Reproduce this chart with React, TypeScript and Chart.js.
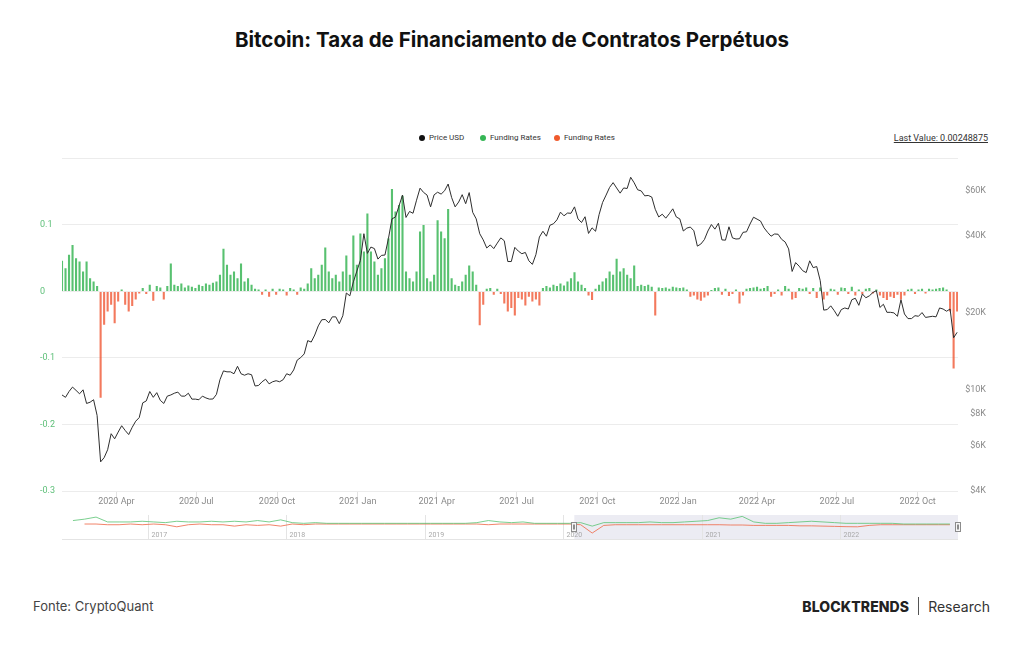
import React, { useEffect, useRef } from "react";
import { Chart, registerables } from "chart.js";
Chart.register(...registerables);

// ---------- DATA ----------
const START_DATE = "2020-01-30"; // first sample
const STEP_DAYS = 4; // one sample every 4 days
const END_DATE = "2022-11-16"; // right edge of the axis

const priceUSD = [
  9500, 9300, 9800, 10200, 9900, 9600, 9950, 8800, 8900, 9100,
  7900, 5200, 5400, 5800, 6700, 6400, 6800, 7200, 6900, 6650,
  7100, 7500, 7750, 8850, 9000, 9800, 9300, 9700, 9050, 8800,
  9400, 9500, 9650, 9750, 9400, 9400, 9650, 9150, 9150, 9100,
  9400, 9250, 9150, 9160, 9550, 10900, 11800, 11700, 11700, 11500,
  12300, 11500, 11350, 11500, 11400, 10300, 10350, 10700, 10950, 10500,
  10700, 10800, 10700, 10900, 11500, 11350, 11900, 13000, 13300, 13750,
  15500, 15300, 16300, 17700, 18700, 18750, 18200, 19200, 19200, 18050,
  19400, 23800, 23200, 26300, 29000, 31900, 40600, 34000, 36000, 35500,
  32300, 33400, 33500, 38900, 46400, 47200, 52100, 57500, 47000, 49600,
  48800, 54900, 61200, 58900, 57500, 51700, 57600, 59000, 58000, 59800,
  63500, 56200, 51700, 54000, 57700, 53200, 58800, 49200, 46400, 40600,
  38400, 35700, 36700, 35500, 37300, 39100, 38100, 31600, 31600, 35900,
  34700, 33900, 34300, 31800, 30800, 33600, 39400, 41500, 39700, 43800,
  44400, 46000, 49300, 47700, 48900, 48800, 51700, 46400, 44900, 47300,
  40700, 42800, 41500, 48200, 53800, 57500, 61600, 64300, 61300, 58500,
  61300, 61000, 67500, 64200, 60300, 59700, 57100, 57300, 56500, 50600,
  47200, 48400, 46700, 48600, 50800, 47200, 46400, 41600, 42700, 43100,
  41700, 36300, 37000, 38500, 41600, 44100, 42300, 44600, 38400, 38300,
  43200, 39100, 38700, 38800, 41100, 41300, 44300, 47100, 46300, 45500,
  42800, 41100, 39700, 40500, 40400, 38600, 37700, 35400, 28900, 31300,
  30300, 29100, 28600, 31800, 29900, 30200, 26600, 20400, 20500, 21200,
  20300, 19300, 20500, 20800, 20600, 22400, 22700, 21300, 23600, 22800,
  23200, 23900, 24300, 20900, 21500, 20000, 20000, 19900, 19300, 22400,
  19700, 18900, 18900, 19400, 19300, 19950, 19100, 19200, 19300, 19200,
  20800, 20600, 20200, 20600, 15900, 16700,
];

const fundingRates = [
  0.046, 0.035, 0.055, 0.07, 0.05, 0.045, 0.03, 0.045, 0.02, 0.015,
  0.008, -0.16, -0.05, -0.03, -0.02, -0.048, -0.015, 0.003, -0.02, -0.03,
  -0.022, -0.012, -0.003, 0.005, -0.004, 0.01, -0.014, 0.008, 0.006, -0.012,
  0.008, 0.042, 0.01, 0.008, 0.012, 0.006, 0.009, 0.007, 0.005, 0.01,
  0.008, 0.012, 0.01, 0.013, 0.015, 0.025, 0.064, 0.04, 0.025, 0.03,
  0.02, 0.042, 0.015, 0.02, 0.01, 0.004, 0.003, -0.005, 0.003, -0.008,
  0.004, -0.005, 0.004, 0.003, -0.006, 0.005, 0.003, -0.005, 0.006, 0.004,
  0.012, 0.035, 0.02, 0.025, 0.04, 0.066, 0.03, 0.02, 0.025, 0.015,
  0.03, 0.054, 0.025, 0.084, 0.04, 0.087, 0.06, 0.117, 0.06, 0.045,
  0.025, 0.035, 0.05, 0.08, 0.154, 0.12, 0.13, 0.144, 0.03, 0.02,
  0.015, 0.03, 0.09, 0.1, 0.02, 0.015, 0.025, 0.107, 0.09, 0.08,
  0.124, 0.02, 0.01, 0.008, 0.015, 0.025, 0.039, 0.03, 0.01, -0.051,
  -0.02, 0.004, 0.005, -0.005, 0.004, -0.004, -0.018, -0.03, -0.025, -0.036,
  -0.01, -0.012, -0.021, -0.008, -0.015, -0.012, -0.021, 0.005, 0.008, 0.006,
  0.01, 0.008, 0.012, 0.009, 0.015, 0.02, 0.029, 0.015, 0.01, 0.005,
  -0.006, -0.013, 0.004, 0.01, 0.015, 0.02, 0.03, 0.025, 0.049, 0.03,
  0.035, 0.025, 0.02, 0.039, 0.008, 0.01, 0.008, 0.01, 0.007, -0.036,
  0.006, 0.005, 0.006, 0.004, 0.007, 0.006, 0.005, 0.006, 0.003, -0.008,
  -0.006, -0.012, -0.014, -0.009, -0.006, 0.002, 0.005, 0.006, -0.005, 0.004,
  -0.007, -0.004, 0.003, -0.018, -0.006, 0.004, 0.005, 0.006, 0.007, 0.004,
  0.005, 0.008, -0.008, -0.004, 0.003, -0.006, 0.008, 0.004, -0.012, -0.01,
  0.005, 0.004, 0.006, -0.004, 0.005, -0.01, 0.006, -0.012, -0.006, 0.004,
  0.003, -0.005, 0.006, 0.005, -0.004, 0.007, -0.006, 0.003, -0.004, 0.004,
  0.005, -0.003, 0.003, -0.006, -0.01, -0.013, -0.008, -0.01, -0.005, -0.012,
  -0.006, 0.003, 0.004, -0.004, 0.003, 0.004, -0.003, 0.004, 0.003, 0.004,
  0.005, 0.006, 0.003, -0.03, -0.116, -0.03,
];

const quarterDates = [
  "2020-04-01", "2020-07-01", "2020-10-01", "2021-01-01", "2021-04-01", "2021-07-01",
  "2021-10-01", "2022-01-01", "2022-04-01", "2022-07-01", "2022-10-01",
];
const quarterLabels = [
  "2020 Apr", "2020 Jul", "2020 Oct", "2021 Jan", "2021 Apr", "2021 Jul",
  "2021 Oct", "2022 Jan", "2022 Apr", "2022 Jul", "2022 Oct",
];
const rateTicks = [-0.3, -0.2, -0.1, 0, 0.1, 0.2];
const priceTicks = [4000, 6000, 8000, 10000, 20000, 40000, 60000];
const priceTickLabels = ["$4K", "$6K", "$8K", "$10K", "$20K", "$40K", "$60K"];

// Navigator (overview) – monthly, first value = Jun 2016
const navGreen = [
  0.06, 0.07, 0.085, 0.05, 0.05, 0.05, 0.055,
  0.05, 0.045, 0.055, 0.05, 0.05, 0.055, 0.05, 0.055, 0.05, 0.06, 0.05, 0.065,
  0.045, 0.04, 0.045, 0.04, 0.04, 0.04, 0.04, 0.04, 0.04, 0.04, 0.04, 0.04,
  0.04, 0.04, 0.04, 0.04, 0.045, 0.06, 0.05, 0.045, 0.05, 0.04, 0.04, 0.04,
  0.04, 0.045, 0.02, 0.045, 0.045, 0.045, 0.045, 0.05, 0.045, 0.045, 0.05, 0.055,
  0.06, 0.08, 0.07, 0.09, 0.05, 0.04, 0.04, 0.045, 0.05, 0.055, 0.05, 0.045,
  0.04, 0.04, 0.04, 0.04, 0.04, 0.035, 0.035, 0.035, 0.035, 0.035,
];
// first value = Jul 2016
const navRed = [
  0.035, 0.035, 0.03, 0.03, 0.035, 0.03,
  0.035, 0.03, 0.015, 0.03, 0.035, 0.03, 0.03, 0.02, 0.03, 0.025, 0.03, 0.02,
  0.035, 0.03, 0.035, 0.035, 0.035, 0.035, 0.035, 0.035, 0.035, 0.035, 0.035, 0.035,
  0.035, 0.035, 0.035, 0.035, 0.035, 0.03, 0.035, 0.035, 0.035, 0.035, 0.035, 0.035,
  0.035, 0.03, -0.03, 0.025, 0.03, 0.03, 0.03, 0.03, 0.03, 0.03, 0.03, 0.03,
  0.03, 0.03, 0.028, 0.028, 0.025, 0.025, 0.025, 0.025, 0.022, 0.022, 0.02, 0.018,
  0.016, 0.015, 0.025, 0.03, 0.03, 0.03, 0.03, 0.03, 0.03, 0.03,
];
const navYearLabels = ["2017", "2018", "2019", "2020", "2021", "2022"];

// ---------- helpers ----------
const DAY = 86400000;
const startMs = Date.parse(START_DATE + "T00:00:00Z");
const dayOf = (s: string) => Math.round((Date.parse(s + "T00:00:00Z") - startMs) / DAY);
const FONT = "Roboto, 'Noto Sans', sans-serif";
const GREEN = "rgba(46,178,76,0.8)";
const RED = "rgba(240,88,52,0.8)";

export default function App() {
  const mainRef = useRef<HTMLCanvasElement>(null);
  const navRef = useRef<HTMLCanvasElement>(null);

  useEffect(() => {
    const xs = priceUSD.map((_, i) => i * STEP_DAYS);
    const priceData = priceUSD.map((v, i) => ({ x: xs[i], y: v }));
    const greenData = fundingRates.map((v, i) => ({ x: xs[i], y: v >= 0 ? v : null }));
    const redData = fundingRates.map((v, i) => ({ x: xs[i], y: v < 0 ? v : null }));
    const qDays = quarterDates.map(dayOf);

    const main = new Chart(mainRef.current!, {
      type: "bar",
      data: {
        datasets: [
          {
            type: "line",
            label: "Price USD",
            data: priceData as any,
            yAxisID: "price",
            borderColor: "#2e2e2e",
            borderWidth: 1,
            pointRadius: 0,
            tension: 0,
            order: 0,
          } as any,
          {
            label: "Funding Rates",
            data: greenData as any,
            yAxisID: "rate",
            backgroundColor: GREEN,
            grouped: false,
            barPercentage: 0.6,
            categoryPercentage: 1,
            order: 1,
          } as any,
          {
            label: "Funding Rates",
            data: redData as any,
            yAxisID: "rate",
            backgroundColor: RED,
            grouped: false,
            barPercentage: 0.6,
            categoryPercentage: 1,
            order: 1,
          } as any,
        ],
      },
      options: {
        animation: false,
        responsive: true,
        maintainAspectRatio: false,
        layout: { padding: { top: 7, left: 0, right: 0, bottom: 0 } },
        plugins: { legend: { display: false }, tooltip: { enabled: false } },
        scales: {
          x: {
            type: "linear",
            offset: false,
            min: 0,
            max: dayOf(END_DATE),
            afterBuildTicks: (s: any) => {
              s.ticks = qDays.map((v) => ({ value: v }));
            },
            afterFit: (s: any) => {
              s.height = 20;
            },
            ticks: {
              autoSkip: false,
              maxRotation: 0,
              padding: -7,
              color: "#8a8a8a",
              font: { family: FONT, size: 9 },
              callback: (v: any) => {
                const k = qDays.indexOf(v);
                return k >= 0 ? quarterLabels[k] : "";
              },
            },
            grid: { offset: false, drawOnChartArea: false, drawTicks: true, tickLength: 12, color: "#e3e3e3" },
            border: { display: false },
          },
          rate: {
            type: "linear",
            position: "left",
            min: -0.3,
            max: 0.2,
            afterBuildTicks: (s: any) => {
              s.ticks = rateTicks.map((v) => ({ value: v }));
            },
            afterFit: (s: any) => {
              s.width = 22;
            },
            ticks: {
              crossAlign: "far",
              color: "#5dbf78",
              font: { family: FONT, size: 9 },
              callback: (v: any) => (Math.abs(v - 0.2) < 1e-9 ? "" : String(Math.round(v * 10) / 10)),
            },
            grid: { color: "#ececec", drawTicks: false },
            border: { display: false },
          },
          price: {
            type: "logarithmic",
            position: "right",
            min: 4000,
            max: 80000,
            afterBuildTicks: (s: any) => {
              s.ticks = priceTicks.map((v) => ({ value: v }));
            },
            afterFit: (s: any) => {
              s.width = 28;
            },
            ticks: {
              crossAlign: "far",
              color: "#8a8a8a",
              font: { family: FONT, size: 9 },
              callback: (v: any) => {
                const k = priceTicks.indexOf(v);
                return k >= 0 ? priceTickLabels[k] : "";
              },
            },
            grid: { display: false },
            border: { display: false },
          },
        },
      } as any,
    });

    // Navigator
    const M0 = -0.45; // month index of left edge (0 = Jun 2016)
    const PX_PER_M = 896 / (77.2 - M0);
    const navW = 904;
    const navMax = M0 + navW / PX_PER_M;
    const selStartM = 43.95; // Jan 30 2020
    const navPlugin = {
      id: "navDecor",
      beforeDatasetsDraw(chart: any) {
        const { ctx } = chart;
        const xs = chart.scales.x;
        const h = chart.height;
        ctx.save();
        const sx = xs.getPixelForValue(selStartM);
        ctx.fillStyle = "#ececf3";
        ctx.fillRect(sx, 0, 896 - sx, h);
        ctx.strokeStyle = "#e4e4e4";
        ctx.lineWidth = 1;
        ctx.beginPath();
        ctx.moveTo(0, h - 0.5);
        ctx.lineTo(896, h - 0.5);
        ctx.stroke();
        ctx.font = "7px " + FONT;
        ctx.fillStyle = "#a8a8a8";
        ctx.textBaseline = "alphabetic";
        navYearLabels.forEach((lab, k) => {
          const px = Math.round(xs.getPixelForValue(7 + 12 * k)) + 0.5;
          ctx.beginPath();
          ctx.moveTo(px, 0);
          ctx.lineTo(px, h);
          ctx.stroke();
          ctx.fillText(lab, px + 3, h - 3);
        });
        ctx.restore();
      },
      afterDatasetsDraw(chart: any) {
        const { ctx } = chart;
        const xs = chart.scales.x;
        ctx.save();
        const hs = [Math.round(xs.getPixelForValue(selStartM)), 896];
        hs.forEach((hx) => {
          ctx.fillStyle = "#f6f6f6";
          ctx.strokeStyle = "#8c8c8c";
          ctx.lineWidth = 1;
          ctx.fillRect(hx - 2.5, 7.5, 5, 9);
          ctx.strokeRect(hx - 2.5, 7.5, 5, 9);
          ctx.beginPath();
          ctx.moveTo(hx - 0.5, 9.5);
          ctx.lineTo(hx - 0.5, 14.5);
          ctx.moveTo(hx + 0.5, 9.5);
          ctx.lineTo(hx + 0.5, 14.5);
          ctx.stroke();
        });
        ctx.restore();
      },
    };
    const nav = new Chart(navRef.current!, {
      type: "line",
      data: {
        datasets: [
          {
            data: navGreen.map((v, i) => ({ x: i + 0.5, y: v })),
            borderColor: "rgba(90,195,115,0.8)",
            borderWidth: 1,
            pointRadius: 0,
          },
          {
            data: navRed.map((v, i) => ({ x: i + 1.5, y: v })),
            borderColor: "rgba(238,110,80,0.85)",
            borderWidth: 1,
            pointRadius: 0,
          },
        ] as any,
      },
      options: {
        animation: false,
        responsive: true,
        maintainAspectRatio: false,
        layout: { padding: 0 },
        plugins: { legend: { display: false }, tooltip: { enabled: false } },
        scales: {
          x: { type: "linear", min: M0, max: navMax, display: false },
          y: { min: -0.08, max: 0.1, display: false },
        },
      } as any,
      plugins: [navPlugin],
    });

    return () => {
      main.destroy();
      nav.destroy();
    };
  }, []);

  const legendItem = (left: number, color: string, text: string) => (
    <div
      style={{
        position: "absolute",
        left,
        top: 133,
        display: "flex",
        alignItems: "center",
        fontFamily: FONT,
        fontSize: 8,
        color: "#333",
        whiteSpace: "nowrap",
      }}
    >
      <span
        style={{
          display: "inline-block",
          width: 6,
          height: 6,
          borderRadius: 3,
          background: color,
          marginRight: 4,
        }}
      />
      {text}
    </div>
  );

  return (
    <div
      style={{
        position: "fixed",
        left: 0,
        top: 0,
        width: 1024,
        height: 645,
        background: "#fff",
        overflow: "hidden",
      }}
    >
      <div
        style={{
          position: "absolute",
          left: 0,
          width: 1024,
          top: 27,
          textAlign: "center",
          fontFamily: "Inter, Roboto, sans-serif",
          fontWeight: 700,
          fontSize: 20.5,
          color: "#111",
        }}
      >
        Bitcoin: Taxa de Financiamento de Contratos Perpétuos
      </div>

      {legendItem(419, "#111", "Price USD")}
      {legendItem(480, "#35b655", "Funding Rates")}
      {legendItem(554, "#f05a2c", "Funding Rates")}
      <div
        style={{
          position: "absolute",
          right: 36,
          top: 133,
          fontFamily: FONT,
          fontSize: 9,
          color: "#333",
          textDecoration: "underline",
          whiteSpace: "nowrap",
        }}
      >
        Last Value: 0.00248875
      </div>

      <div style={{ position: "absolute", left: 40, top: 150, width: 946, height: 361 }}>
        <canvas ref={mainRef} />
      </div>
      <div style={{ position: "absolute", left: 62, top: 515, width: 904, height: 25 }}>
        <canvas ref={navRef} />
      </div>

      <div
        style={{
          position: "absolute",
          left: 33,
          top: 598,
          fontFamily: "Inter, Roboto, sans-serif",
          fontSize: 13,
          color: "#444",
        }}
      >
        Fonte: CryptoQuant
      </div>
      <div
        style={{
          position: "absolute",
          right: 34,
          top: 597,
          display: "flex",
          alignItems: "center",
          fontFamily: "Inter, Roboto, sans-serif",
          color: "#222",
        }}
      >
        <span style={{ fontWeight: 800, fontSize: 14, letterSpacing: 0.1 }}>BLOCKTRENDS</span>
        <span
          style={{ display: "inline-block", width: 1, height: 18, background: "#555", margin: "0 9px" }}
        />
        <span style={{ fontSize: 14, color: "#333" }}>Research</span>
      </div>
    </div>
  );
}
